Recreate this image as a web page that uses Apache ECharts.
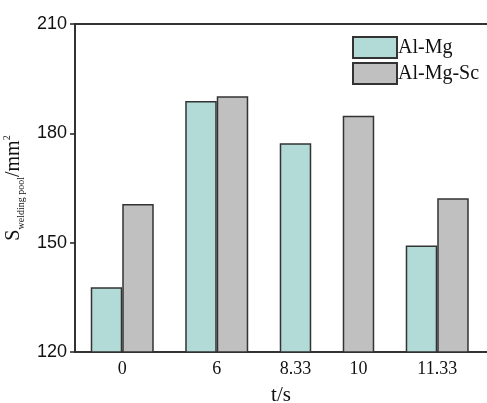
<!DOCTYPE html>
<html>
<head>
<meta charset="utf-8">
<style>html,body{margin:0;padding:0;background:#fff;}#chart{width:487px;height:403px;}</style>
<script src="https://cdn.jsdelivr.net/npm/echarts@6/dist/echarts.min.js"></script>
</head>
<body>
<div id="chart"></div>
<script>
// ---- data ----
const categories = ['0', '6', '8.33', '10', '11.33'];
const alMg   = [137.8, 188.9, 177.3, null, 149.2];
const alMgSc = [160.6, 190.2, null, 184.8, 162.2];
const seriesNames = ['Al-Mg', 'Al-Mg-Sc'];
const yTicks = [120, 150, 180, 210];

// ---- layout (bars packed with one bar-width gap between groups) ----
const allSeries = [alMg, alMgSc];
const barPos = [[], []];
const groupCenters = [];
let cursor = 0.5;
categories.forEach((c, i) => {
  let n = 0;
  allSeries.forEach((s, k) => {
    if (s[i] != null) { barPos[k].push([cursor + n + 0.5, s[i]]); n++; }
  });
  groupCenters.push(cursor + n / 2);
  cursor += n + 1;
});
const xMax = 13.08;
const gridLeft = 75, gridRight = 0, gridTop = 24, gridBottom = 51;
const gridWidth = 487 - gridLeft - gridRight;
const unitPx = gridWidth / xMax;

function labelFor(v) {
  let best = 0;
  groupCenters.forEach((g, i) => { if (Math.abs(g - v) < Math.abs(groupCenters[best] - v)) best = i; });
  return categories[best];
}

const serif = '"Liberation Serif", "Times New Roman", serif';
const sans = '"Liberation Sans", Arial, sans-serif';
const colors = ['#b2dad7', '#c0c0c0'];

const chart = echarts.init(document.getElementById('chart'));
chart.setOption({
  animation: false,
  grid: { left: gridLeft, right: gridRight, top: gridTop, bottom: gridBottom, containLabel: false, outerBoundsMode: 'none' },
  legend: {
    orient: 'vertical', left: 347, top: 31, itemWidth: 44, itemHeight: 21, itemGap: 3,
    icon: 'rect',
    textStyle: { fontFamily: serif, fontSize: 20, color: '#111', padding: [0, 0, 0, -4] },
    data: seriesNames
  },
  xAxis: [{
    type: 'value', min: 0, max: xMax,
    name: 't/s', nameLocation: 'middle', nameGap: 33,
    nameTextStyle: { fontFamily: serif, fontSize: 21, color: '#111' },
    axisLine: { show: true, lineStyle: { color: '#333', width: 2 } },
    axisTick: { show: false },
    splitLine: { show: false },
    axisLabel: {
      customValues: groupCenters, formatter: v => labelFor(v),
      fontFamily: serif, fontSize: 18, color: '#111', margin: 8
    }
  }, {
    type: 'value', min: 0, max: xMax, position: 'top',
    axisLine: { show: true, lineStyle: { color: '#333', width: 2 } },
    axisTick: { show: false }, axisLabel: { show: false }, splitLine: { show: false }
  }],
  yAxis: {
    type: 'value', min: yTicks[0], max: yTicks[yTicks.length - 1], interval: 30,
    name: '{b|S}{sub|welding pool}{b|/mm}{sup|2}',
    nameLocation: 'middle', nameGap: 46, nameRotate: 90,
    nameTextStyle: {
      fontFamily: serif, color: '#111',
      rich: {
        b: { fontFamily: serif, fontSize: 20, color: '#111', lineHeight: 24 },
        sub: { fontFamily: serif, fontSize: 10, color: '#111', lineHeight: 24, verticalAlign: 'bottom', padding: [10, 0, 0, 0] },
        sup: { fontFamily: serif, fontSize: 10, color: '#111', lineHeight: 24, verticalAlign: 'top', padding: [0, 0, 10, 0] }
      }
    },
    axisLine: { show: true, lineStyle: { color: '#333', width: 2 } },
    axisTick: { show: true, inside: false, length: 5, lineStyle: { color: '#222', width: 1.5 } },
    splitLine: { show: false },
    axisLabel: { fontFamily: sans, fontSize: 18, color: '#111', margin: 8 }
  },
  series: seriesNames.map((name, k) => ({
    name, type: 'bar', xAxisIndex: 0,
    barWidth: unitPx, barGap: '-100%',
    itemStyle: { color: colors[k], borderColor: '#333', borderWidth: 1.5 },
    data: barPos[k]
  }))
});
</script>
</body>
</html>
